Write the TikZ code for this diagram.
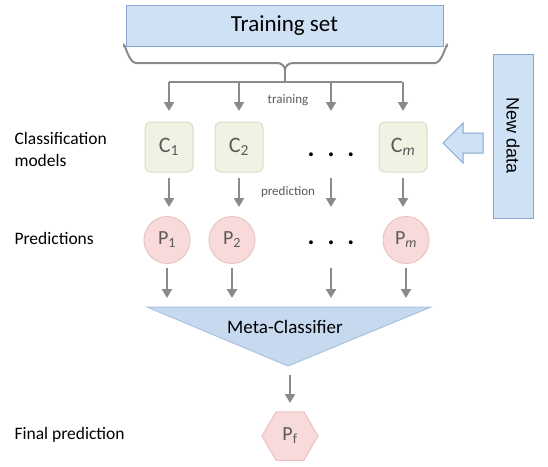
\documentclass[tikz,border=0pt]{standalone}
\usepackage{fontspec}
\setmainfont{Carlito}
\newfontfamily\arialfont{Liberation Sans}
\usetikzlibrary{arrows.meta,shapes.geometric}

\definecolor{setfill}{HTML}{CFE1F5}
\definecolor{setline}{HTML}{86A6D0}
\definecolor{cfill}{HTML}{EEF3E3}
\definecolor{cline}{HTML}{D6DFC4}
\definecolor{pfill}{HTML}{F8DADA}
\definecolor{pline}{HTML}{ECC4C4}
\definecolor{metafill}{HTML}{C6D9EF}
\definecolor{metaline}{HTML}{A9C2E0}
\definecolor{flowgrey}{HTML}{8A8A8A}
\definecolor{labgrey}{HTML}{5A5A5A}

\tikzset{
  flow/.style={draw=flowgrey,line width=2pt,-{Triangle[width=10pt,length=9pt]}},
  bracket/.style={draw=flowgrey,line width=2pt},
  setbox/.style={draw=setline,fill=setfill,line width=1pt,minimum width=317pt,minimum height=41pt,
    font=\fontsize{23}{25}\selectfont},
  cbox/.style={draw=cline,fill=cfill,line width=1pt,rounded corners=6pt,minimum width=48pt,minimum height=50pt,
    text=labgrey,font=\fontsize{22}{24}\selectfont},
  pcirc/.style={ellipse,draw=pline,fill=pfill,line width=1pt,minimum width=46pt,minimum height=47pt,inner sep=0pt,
    text=labgrey,font=\fontsize{20}{22}\selectfont},
  dotrow/.style={font=\fontsize{26}{28}\selectfont\bfseries},
  rowlabel/.style={anchor=west,align=left,font=\fontsize{17.5}{22}\selectfont},
  small/.style={text=labgrey,font=\fontsize{13}{15}\selectfont}
}

\begin{document}
\begin{tikzpicture}[x=1pt,y=-1pt]
  \useasboundingbox (0,0) rectangle (548,466);

  % training set and bracket
  \node[setbox] (train) at (284.5,25.5) {Training set};
  \draw[bracket] (124,47) to[out=90,in=180] (136,63) -- (277,63) to[out=0,in=90] (285,70)
    to[out=90,in=180] (293,63) -- (435,63) to[out=0,in=90] (447,47);
  \coordinate (fork) at (285,82);
  \draw[bracket] (285,70) -- (fork);
  \draw[bracket] (169,82) -- (402,82);
  \node[small] (trainlab) at (288,100) {training};

  % classifiers
  \node[cbox] (c1) at (169,147) {C\textsubscript{1}};
  \node[cbox] (c2) at (239,147) {C\textsubscript{2}};
  \node[dotrow] (cdots) at (331,155) {.\,\,\,.\,\,\,.};
  \node[cbox] (cm) at (403,147) {C\textsubscript{\itshape m}};
  \coordinate (toc) at (0,111);
  \foreach \n in {c1,c2,cdots,cm}
    \draw[flow] (\n |- fork) -- (\n |- toc);

  % predictions
  \node[small] (predlab) at (288,192) {prediction};
  \node[pcirc] (p1) at (167,240) {P\textsubscript{1}};
  \node[pcirc] (p2) at (232,240) {P\textsubscript{2}};
  \node[dotrow] (pdots) at (331,243) {.\,\,\,.\,\,\,.};
  \node[pcirc] (pm) at (406,240) {P\textsubscript{\itshape m}};
  \coordinate (frc) at (0,178);
  \coordinate (top) at (0,207);
  \foreach \n in {c1,c2,cdots,cm}
    \draw[flow] (\n |- frc) -- (\n |- top);
  \coordinate (frp) at (0,268);
  \coordinate (tometa) at (0,298);
  \foreach \n in {p1,p2,pdots,pm}
    \draw[flow] (\n |- frp) -- (\n |- tometa);

  % meta classifier
  \draw[draw=metaline,fill=metafill,line width=1pt] (147,307) -- (431,307) -- (288,366) -- cycle;
  \node[font=\fontsize{19}{21}\selectfont] (meta) at (285,327) {Meta-Classifier};
  \node[regular polygon,regular polygon sides=6,minimum size=56pt,inner sep=0pt,draw=pline,fill=pfill,
    line width=1pt,text=labgrey,font=\fontsize{20}{22}\selectfont] (pf) at (290,436) {P\textsubscript{f}};
  \coordinate (apex) at (290,375);
  \draw[flow] (apex) -- (apex |- 0,403);

  % new data
  \node[draw=setline,fill=setfill,line width=1pt,rotate=-90,minimum width=164pt,minimum height=40pt,
    font=\arialfont\fontsize{18}{20}\selectfont] (newdata) at (513,136) {New data};
  \draw[draw=setline,fill=setfill,line width=1pt] (443,143) -- (463,123) -- (463,133) -- (483,133)
    -- (483,153) -- (463,153) -- (463,163) -- cycle;

  % row labels
  \node[rowlabel] (lclass) at (11,149) {Classification\\models};
  \node[rowlabel] (lpred) at (11,238) {Predictions};
  \node[rowlabel] (lfinal) at (11,435) {Final prediction};
\end{tikzpicture}
\end{document}
